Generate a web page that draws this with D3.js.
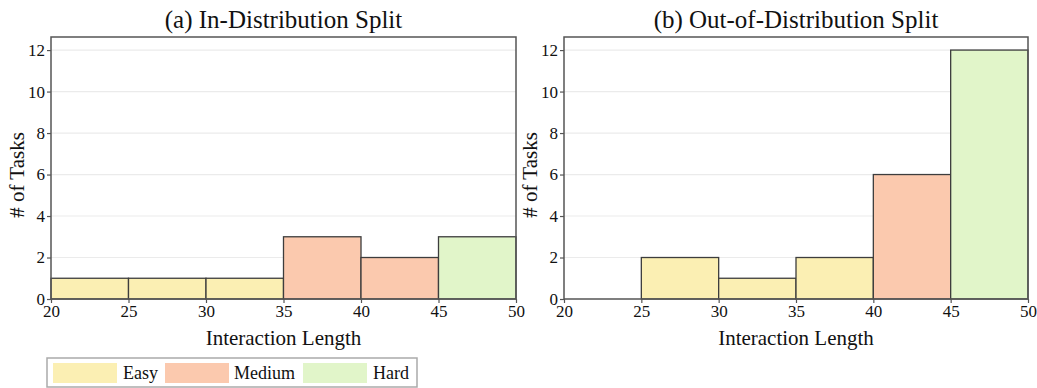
<!DOCTYPE html>
<html>
<head>
<meta charset="utf-8">
<script src="https://cdn.jsdelivr.net/npm/d3@7"></script>
<style>
  body { margin: 0; background: #fff; }
</style>
</head>
<body>
<svg id="chart" width="1037" height="388"></svg>
<script>
// bins of interaction length
const binStarts = [20, 25, 30, 35, 40, 45];
const binWidth = 5;
const inDistCounts = [1, 1, 1, 3, 2, 3];
const outDistCounts = [0, 2, 1, 2, 6, 12];
const inDistLevel = ["Easy", "Easy", "Easy", "Medium", "Medium", "Hard"];
const outDistLevel = ["Easy", "Easy", "Easy", "Easy", "Medium", "Hard"];
const levels = ["Easy", "Medium", "Hard"];
const levelColors = ["#fbefb3", "#fbc9ae", "#e1f5c9"];
const xTicks = [20, 25, 30, 35, 40, 45, 50];
const yTicks = [0, 2, 4, 6, 8, 10, 12];

const FONT = "Liberation Serif";
const svg = d3.select("#chart");
const color = d3.scaleOrdinal().domain(levels).range(levelColors);

function drawPanel(left, right, title, counts, lvl) {
  const top = 37, bottom = 299;
  const x = d3.scaleLinear().domain([20, 50]).range([left, right]);
  const y = d3.scaleLinear().domain([0, 12.63]).range([bottom, top]);
  const g = svg.append("g");

  // grid
  g.selectAll("line.grid")
    .data(yTicks.filter(d => d > 0))
    .enter().append("line")
    .attr("x1", left).attr("x2", right)
    .attr("y1", d => y(d)).attr("y2", d => y(d))
    .attr("stroke", "#ebebeb")
    .attr("stroke-width", 1.2);

  let bins = binStarts.map((s, i) => ({x0: s, x1: s + binWidth, n: counts[i], lvl: lvl[i]}));
  g.selectAll("rect.bar")
    .data(bins.filter(d => d.n > 0))
    .enter().append("rect")
    .attr("x", d => x(d.x0))
    .attr("width", d => x(d.x1) - x(d.x0))
    .attr("y", d => y(d.n))
    .attr("height", d => y(0) - y(d.n))
    .attr("fill", d => color(d.lvl))
    .attr("stroke", "#3d3d3d")
    .attr("stroke-width", 1.3);

  // frame
  g.append("rect")
    .attr("x", left).attr("y", top)
    .attr("width", right - left).attr("height", bottom - top)
    .attr("fill", "none")
    .attr("stroke", "#555")
    .attr("stroke-width", 1.5);

  const xAxis = g.append("g")
    .attr("transform", `translate(0,${bottom})`)
    .call(d3.axisBottom(x).tickValues(xTicks).tickSize(4).tickPadding(2));
  const yAxis = g.append("g")
    .attr("transform", `translate(${left},0)`)
    .call(d3.axisLeft(y).tickValues(yTicks).tickSize(4).tickPadding(2));
  [xAxis, yAxis].forEach(a => {
    a.attr("font-family", FONT).attr("font-size", 17);
    a.select(".domain").remove();
    a.selectAll(".tick line").attr("stroke", "#555").attr("stroke-width", 1.2);
    a.selectAll(".tick text").attr("fill", "#111");
  });

  g.append("text")
    .attr("x", (left + right) / 2).attr("y", 28)
    .attr("text-anchor", "middle")
    .attr("font-family", FONT).attr("font-size", 25)
    .attr("fill", "#111")
    .text(title);

  g.append("text")
    .attr("x", (left + right) / 2).attr("y", 345)
    .attr("text-anchor", "middle")
    .attr("font-family", FONT).attr("font-size", 21)
    .attr("fill", "#111")
    .text("Interaction Length");

  g.append("text")
    .attr("transform", `translate(${left - 27},${(top + bottom) / 2 + 7}) rotate(-90)`)
    .attr("text-anchor", "middle")
    .attr("font-family", FONT).attr("font-size", 21)
    .attr("fill", "#111")
    .text("# of Tasks");
}

drawPanel(51, 516, "(a) In-Distribution Split", inDistCounts, inDistLevel);
drawPanel(564, 1028, "(b) Out-of-Distribution Split", outDistCounts, outDistLevel);

// legend
const legend = svg.append("g");
legend.append("rect")
  .attr("x", 47).attr("y", 358).attr("width", 370).attr("height", 29)
  .attr("fill", "#fff").attr("stroke", "#aaa").attr("stroke-width", 1.5);
const swatchX = [53, 165, 303];
const labelX = [123, 234, 373];
levels.forEach((l, i) => {
  legend.append("rect")
    .attr("x", swatchX[i]).attr("y", 363).attr("width", 64).attr("height", 20)
    .attr("fill", color(l));
  legend.append("text")
    .attr("x", labelX[i]).attr("y", 379)
    .attr("font-family", FONT).attr("font-size", 18)
    .attr("fill", "#111")
    .text(l);
});
</script>
</body>
</html>
